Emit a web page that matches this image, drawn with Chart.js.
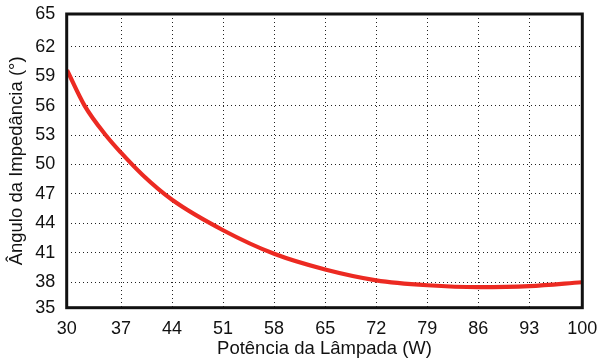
<!DOCTYPE html>
<html>
<head>
<meta charset="utf-8">
<script src="https://cdn.jsdelivr.net/npm/chart.js@4"></script>
<style>
html,body{margin:0;padding:0;background:#fff;}
#wrap{width:599px;height:360px;position:relative;}
</style>
</head>
<body>
<div id="wrap"><canvas id="c" width="599" height="360"></canvas></div>
<script>
// Data
const potencia = [29.6, 32, 35, 37, 40, 44, 51, 58, 65, 72, 79, 86, 93, 100.2];
const angulo   = [59.6, 56.0, 52.9, 51.2, 48.9, 46.4, 43.3, 40.9, 39.3, 38.2, 37.7, 37.5, 37.6, 38.0];
const xTicks = [30, 37, 44, 51, 58, 65, 72, 79, 86, 93, 100];
const yTicks = [35, 38, 41, 44, 47, 50, 53, 56, 59, 62, 65];
const xLabel = 'Potência da Lâmpada (W)';
const yLabel = 'Ângulo da Impedância (°)';

// axis extents as they appear in the picture
const xMin = 29.55, xMax = 100.27;
const yMin = 35.41, yMax = 65.33;

const FONT = 'Liberation Sans, Arial, sans-serif';

const boxPlugin = {
  id: 'box',
  afterDatasetsDraw(chart) {
    const {ctx, chartArea: a} = chart;
    ctx.save();
    ctx.strokeStyle = '#111';
    ctx.lineWidth = 3;
    ctx.strokeRect(a.left, a.top, a.right - a.left, a.bottom - a.top);
    ctx.restore();
  }
};

function mapTicks(list, min, max) {
  return function(scale) {
    scale.ticks = list.map((v, i) => ({
      value: i === 0 ? min : (i === list.length - 1 ? max : v),
      label: String(v)
    }));
  };
}

new Chart(document.getElementById('c'), {
  type: 'line',
  data: {
    datasets: [{
      data: potencia.map((p, i) => ({x: p, y: angulo[i]})),
      borderColor: '#ec2a22',
      borderWidth: 4.2,
      pointRadius: 0,
      fill: false,
      cubicInterpolationMode: 'monotone'
    }]
  },
  options: {
    responsive: false,
    animation: false,
    devicePixelRatio: 1,
    layout: {padding: {top: 14, right: 16.7, left: 0, bottom: 0}},
    plugins: {legend: {display: false}, tooltip: {enabled: false}},
    scales: {
      x: {
        type: 'linear',
        min: xMin, max: xMax,
        afterBuildTicks: mapTicks(xTicks, xMin, xMax),
        afterFit(s) { s.height = 52.3; s.paddingLeft = 0; s.paddingRight = 0; },
        ticks: {
          color: '#111', font: {family: FONT, size: 18}, padding: 10.5,
          maxRotation: 0, autoSkip: false,
          callback: function(v, i, t) { return t[i].label; }
        },
        grid: {color: '#222', lineWidth: 1, drawTicks: false},
        border: {display: false, dash: [1, 3]},
        title: {display: true, text: xLabel, color: '#111', font: {family: FONT, size: 18.5}, padding: {top: 0, bottom: 0}}
      },
      y: {
        type: 'linear',
        min: yMin, max: yMax,
        afterBuildTicks: mapTicks(yTicks, yMin, yMax),
        afterFit(s) { s.width = 66.7; s.paddingTop = 0; s.paddingBottom = 0; },
        ticks: {
          color: '#111', font: {family: FONT, size: 18}, padding: 11.5,
          autoSkip: false,
          callback: function(v, i, t) { return t[i].label; }
        },
        grid: {color: '#222', lineWidth: 1, drawTicks: false},
        border: {display: false, dash: [1, 3]},
        title: {display: true, text: yLabel, color: '#111', font: {family: FONT, size: 18.5}, padding: {top: 5.4, bottom: 0}}
      }
    }
  },
  plugins: [boxPlugin]
});
</script>
</body>
</html>
